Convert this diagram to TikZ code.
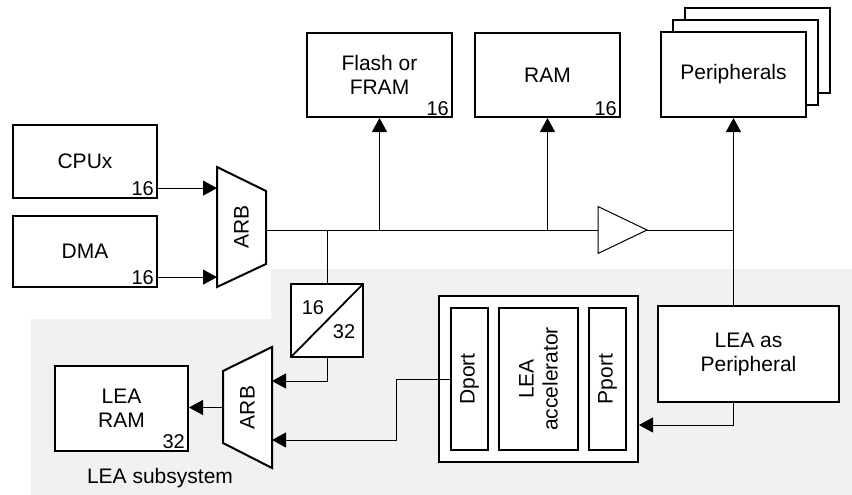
\documentclass[tikz,border=0pt]{standalone}
\usepackage{fontspec}
\setmainfont{Liberation Sans}
\usetikzlibrary{arrows.meta,calc}
\newcommand\fsmain{\fontsize{21}{24}\selectfont}
\newcommand\fsnum{\fontsize{20}{23}\selectfont}
\definecolor{subsysgray}{HTML}{F1F1F1}
\begin{document}
\begin{tikzpicture}[x=1pt,y=-1pt,
  box/.style={draw, line width=2pt, fill=white, inner sep=0pt, align=center, font=\fsmain},
  ghost/.style={inner sep=0pt, outer sep=0pt},
  numlbl/.style={font=\fsnum, inner sep=0pt, anchor=base east},
  txt/.style={font=\fsmain, align=center, inner sep=0pt},
  conn/.style={line width=1pt},
  arr/.style={conn, -{Triangle[length=14pt,width=15pt]}},
  thick box/.style={line width=2pt, fill=white}]
\useasboundingbox (0,0) rectangle (852,495);
% LEA subsystem background
\fill[subsysgray] (271,269) -- (852,269) -- (852,495) -- (31,495) -- (31,319) -- (271,319) -- cycle;

% top boxes
\node[box, minimum width=144pt, minimum height=73pt] (cpu) at (85,161.5) {CPUx};
\node[numlbl] (cpu16) at ($(cpu.south east)+(-4,-4)$) {16};
\node[box, minimum width=144pt, minimum height=71pt] (dma) at (85,251.5) {DMA};
\node[numlbl] (dma16) at ($(dma.south east)+(-4,-4)$) {16};
\node[box, minimum width=145pt, minimum height=84pt] (flash) at (379.5,75) {Flash or\\FRAM};
\node[numlbl] (flash16) at ($(flash.south east)+(-4,-3)$) {16};
\node[box, minimum width=145pt, minimum height=84pt] (ram) at (547.5,75) {RAM};
\node[numlbl] (ram16) at ($(ram.south east)+(-4,-3)$) {16};
\node[box, minimum width=145pt, minimum height=85pt] (per3) at (757.5,50.5) {};
\node[box, minimum width=145pt, minimum height=85pt] (per2) at (745.5,62.5) {};
\node[box, minimum width=145pt, minimum height=85pt] (per) at (733.5,74.5) {Peripherals};

% ARB 1
\node[ghost, minimum width=49pt, minimum height=120pt] (arb1) at (241.5,227) {};
\draw[thick box] (arb1.north west) -- ($(arb1.north east)+(0,24)$) -- ($(arb1.south east)+(0,-23)$) -- (arb1.south west) -- cycle;
\node[txt, rotate=90] at (arb1) {ARB};

% buffer
\node[ghost, minimum width=49pt, minimum height=47pt] (buf) at (622.5,230) {};
\draw[conn, fill=white] (buf.north west) -- (buf.east) -- (buf.south west) -- cycle;

% converter
\node[box, minimum width=72pt, minimum height=73pt] (conv) at (327,320.5) {};
\draw[line width=1.8pt] ($(conv.south west)+(1,-1)$) -- ($(conv.north east)+(-1,1)$);
\node[font=\fsnum, inner sep=0pt] (c16) at (313,308) {16};
\node[font=\fsnum, inner sep=0pt] (c32) at (344,332) {32};

% ARB 2
\node[ghost, minimum width=49pt, minimum height=121pt] (arb2) at (247.5,407.5) {};
\draw[thick box] ($(arb2.north west)+(0,24)$) -- (arb2.north east) -- (arb2.south east) -- ($(arb2.south west)+(0,-25)$) -- cycle;
\node[txt, rotate=90] at (arb2) {ARB};

% LEA RAM
\node[box, minimum width=133pt, minimum height=85pt] (learam) at (121.5,408.5) {LEA\\RAM};
\node[numlbl] (learam32) at ($(learam.south east)+(-4,-4)$) {32};
\node[txt] (subsys) at (160,478) {LEA subsystem};

% LEA accelerator block
\node[box, minimum width=199pt, minimum height=166pt] (lea) at (538.5,379) {};
\node[box, minimum width=37pt, minimum height=142pt] (dport) at (469.5,379) {};
\node[txt, rotate=90] at (dport) {Dport};
\node[box, minimum width=79pt, minimum height=142pt] (accel) at (538.5,379) {};
\node[txt, rotate=90] at (accel) {LEA\\accelerator};
\node[box, minimum width=37pt, minimum height=142pt] (pport) at (607.5,379) {};
\node[txt, rotate=90] at (pport) {Pport};

% LEA as peripheral
\node[box, minimum width=181pt, minimum height=96pt] (lap) at (748.5,354) {LEA as\\Peripheral};

% connectors
\draw[arr] (cpu.east |- cpu16) -- (arb1.west |- cpu16);
\draw[arr] (dma.east |- dma16) -- (arb1.west |- dma16);
\draw[conn] (arb1.east |- buf.west) -- (buf.west);
\draw[conn] (buf.east) -- (buf.east -| per.south);
\draw[arr] (flash.south |- buf.west) -- (flash.south);
\draw[arr] (ram.south |- buf.west) -- (ram.south);
\draw[arr] (lap.north -| per.south) -- (per.south);
\draw[conn] (conv.north |- buf.west) -- (conv.north);
\draw[arr] (conv.south) |- ($(arb2.east)+(0,-26.5)$);
\draw[arr] (dport.west) -- ++(-54,0) |- ($(arb2.east)+(0,32.5)$);
\draw[arr] (arb2.west) -- (arb2.west -| learam.east);
\draw[arr] (lap.south -| per.south) |- ($(lea.east)+(0,46)$);
\end{tikzpicture}
\end{document}
